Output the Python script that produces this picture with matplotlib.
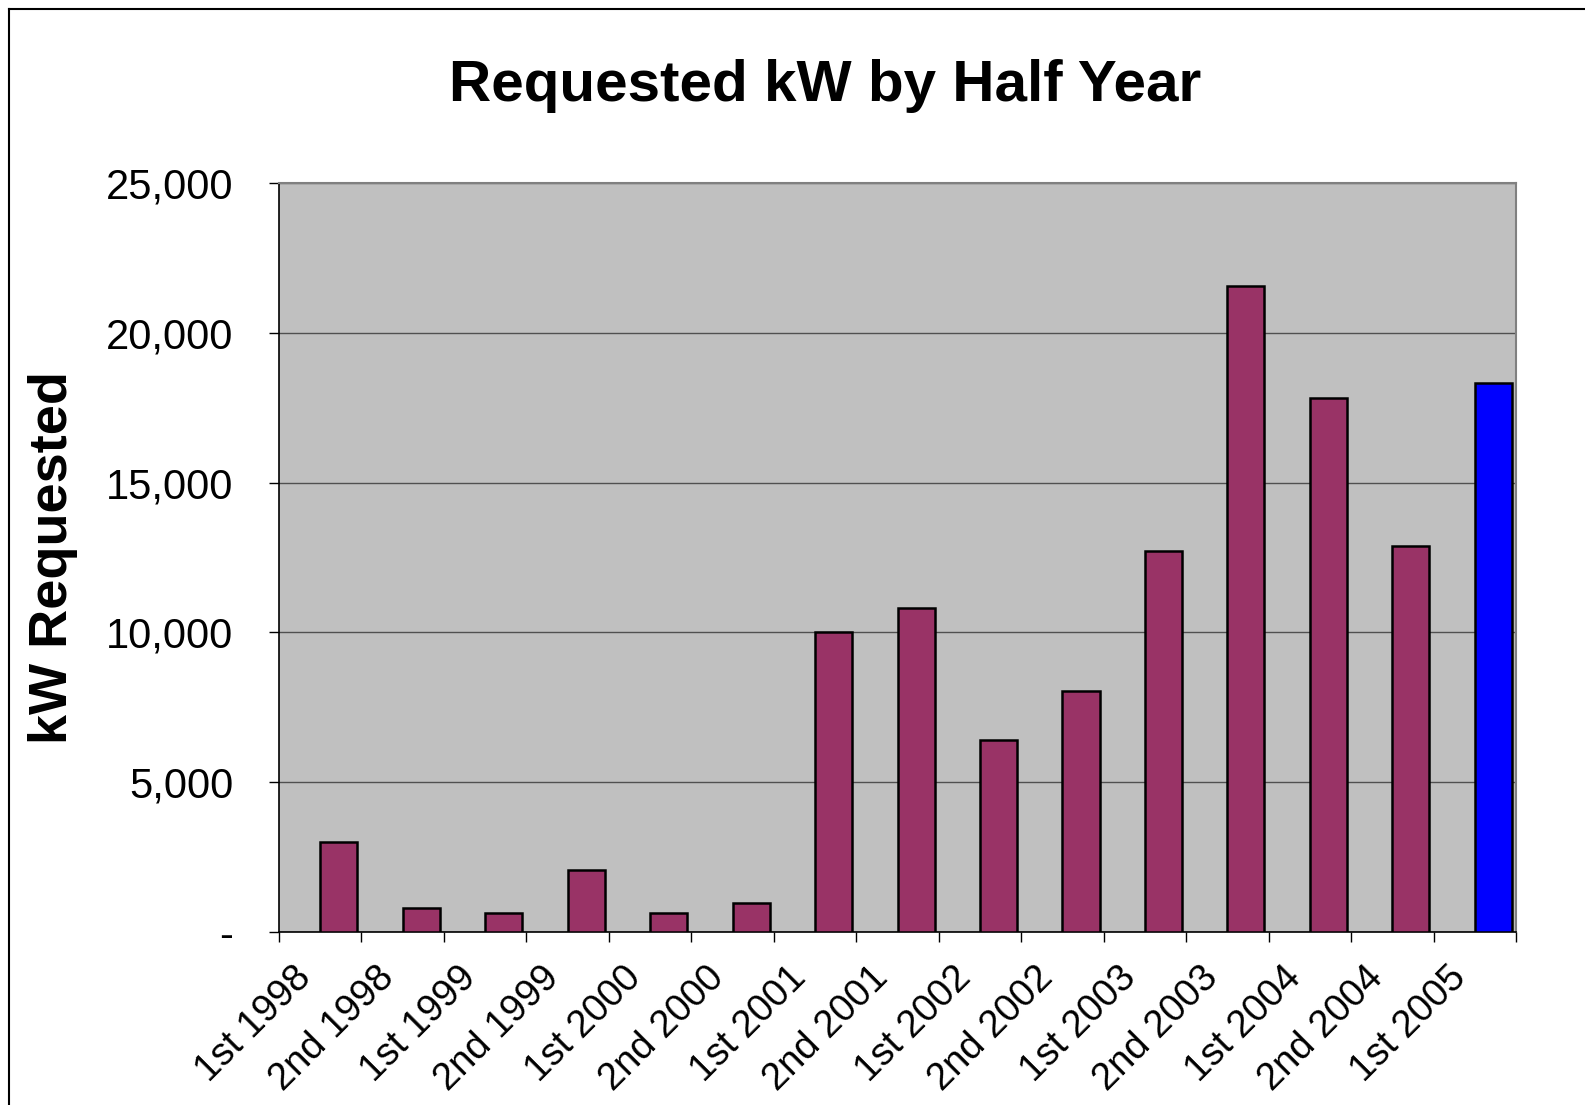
import matplotlib
matplotlib.use("Agg")
import matplotlib.pyplot as plt
from matplotlib.ticker import FixedLocator, FuncFormatter
from matplotlib.lines import Line2D

plt.rcParams['font.family'] = ['Liberation Sans', 'DejaVu Sans']

# data
periods = ["1st 1998", "2nd 1998", "1st 1999", "2nd 1999", "1st 2000",
           "2nd 2000", "1st 2001", "2nd 2001", "1st 2002", "2nd 2002",
           "1st 2003", "2nd 2003", "1st 2004", "2nd 2004", "1st 2005"]
kw_requested = [3000, 810, 640, 2060, 640, 980, 10000, 10830, 6410, 8060,
                12720, 21560, 17810, 12890, 18320]
bar_colors = ["#993366"] * 14 + ["#0000FF"]
y_ticks = [0, 5000, 10000, 15000, 20000, 25000]

W, H = 1585, 1105
fig = plt.figure(figsize=(W / 100, H / 100), dpi=100)
ax = fig.add_axes([279 / W, 1 - 932 / H, (1516 - 279) / W, (932 - 183) / H])
ax.set_facecolor("#C0C0C0")

# frame of the chart area (only top/left visible in the reference)
fig.add_artist(Line2D([8.5 / W, 8.5 / W], [0, 1 - 8.5 / H], color="black", lw=1.5))
fig.add_artist(Line2D([8.5 / W, 1], [1 - 8.5 / H, 1 - 8.5 / H], color="black", lw=1.5))

pos = [i + 0.5 for i in range(len(periods))]
ax.bar(pos, kw_requested, width=0.45, align="edge", color=bar_colors,
       edgecolor="black", linewidth=1.8, zorder=3)

ax.set_xlim(0, len(periods))
ax.set_ylim(0, 25000)

ax.yaxis.set_major_locator(FixedLocator(y_ticks))
ax.yaxis.set_major_formatter(FuncFormatter(lambda v, p: "-" if v == 0 else f"{int(v):,}"))
ax.grid(axis="y", color="#505050", linewidth=1.0, zorder=1)
ax.tick_params(axis="y", direction="out", length=7, width=1.0, pad=26,
               labelsize=30, color="black")

# category boundaries get tick marks, labels sit just left of the centres
ax.xaxis.set_major_locator(FixedLocator(range(len(periods) + 1)))
ax.xaxis.set_major_formatter(FuncFormatter(lambda v, p: ""))
ax.xaxis.set_minor_locator(FixedLocator([i + 0.17 for i in range(len(periods))]))
ax.set_xticklabels(periods, minor=True, rotation=45, ha="right",
                   rotation_mode="anchor", fontsize=27.5)
ax.tick_params(axis="x", which="minor", length=0, pad=20)
ax.tick_params(axis="x", which="major", direction="out", length=7, width=1.0)

for s in ["left", "bottom"]:
    ax.spines[s].set_color("black")
    ax.spines[s].set_linewidth(1.2)
for s in ["top", "right"]:
    ax.spines[s].set_color("#808080")
    ax.spines[s].set_linewidth(1.5)

fig.text(825 / W, 1 - 86 / H, "Requested kW by Half Year", fontsize=42,
         fontweight="bold", ha="center", va="center")
fig.text(53 / W, 1 - 558 / H, "kW Requested", fontsize=39, fontweight="bold",
         rotation=90, ha="center", va="center")

fig.savefig("out.png", dpi=100)
